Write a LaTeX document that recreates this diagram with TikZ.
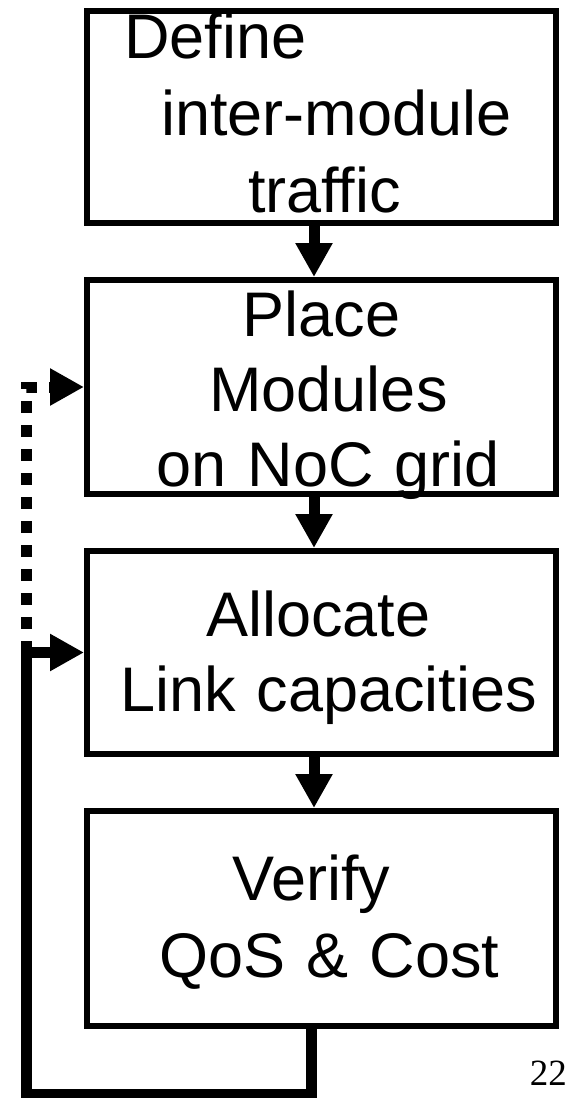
\documentclass[tikz,border=0pt]{standalone}
\usepackage{fontspec}
\setmainfont{Liberation Sans}
\newfontfamily\pagefont{Liberation Serif}
\usetikzlibrary{positioning,arrows.meta}

\tikzset{
  stage/.style={draw, line width=6pt, minimum width=469pt, inner sep=0pt},
  boxtext/.style={text width=469pt, align=center, inner sep=0pt,
    font=\fontsize{63pt}{75pt}\selectfont},
  flow/.style={line width=11pt, -{Triangle[length=34pt,width=35pt]}},
  retry/.style={flow, dash pattern=on 12pt off 12pt}
}

\begin{document}
\begin{tikzpicture}[x=1pt,y=1pt]
  \useasboundingbox (0,0) rectangle (572,-1098);
  % the four steps
  \node[stage, minimum height=212pt] (define) at (321.5,-117) {};
  \node[stage, minimum height=214pt, below=51pt of define] (place) {};
  \node[stage, minimum height=203pt, below=51pt of place] (allocate) {};
  \node[stage, minimum height=215pt, below=51pt of allocate] (verify) {};
  % their texts
  \node[boxtext, font=\fontsize{63pt}{77pt}\selectfont, yshift=4.5pt] (define-txt) at (define)
    {\hspace*{-212pt}Define\\\hspace*{30pt}inter-module\\\hspace*{6pt}traffic};
  \node[boxtext, yshift=-8.5pt] (place-txt) at (place)
    {Place\\\hspace*{14pt}Modules\\\hspace*{14pt}on NoC grid};
  \node[boxtext, yshift=-5.5pt] (allocate-txt) at (allocate)
    {\hspace*{-6pt}Allocate\\\hspace*{14pt}Link capacities};
  \node[boxtext, font=\fontsize{63pt}{77pt}\selectfont, yshift=-3.5pt] (verify-txt) at (verify)
    {\hspace*{-20pt}Verify\\\hspace*{16pt}QoS \& Cost};
  % main flow
  \draw[flow] ([xshift=-7.5pt]define.south) -- ([xshift=-7.5pt]place.north);
  \draw[flow] ([xshift=-7.5pt]place.south) -- ([xshift=-7.5pt]allocate.north);
  \draw[flow] ([xshift=-7.5pt]allocate.south) -- ([xshift=-7.5pt]verify.north);
  % feedback loops
  \coordinate (rail) at (26.5,-1094);
  \coordinate (split) at (rail |- allocate.west);
  \draw[retry] (split) |- (place.west);
  \draw[flow] ([xshift=-10.5pt]verify.south) |- (rail) |- (allocate.west);
  \node[font=\pagefont\fontsize{37pt}{40pt}\selectfont, anchor=base east, inner sep=0pt]
    (slideno) at (567,-1085) {22};
\end{tikzpicture}
\end{document}
